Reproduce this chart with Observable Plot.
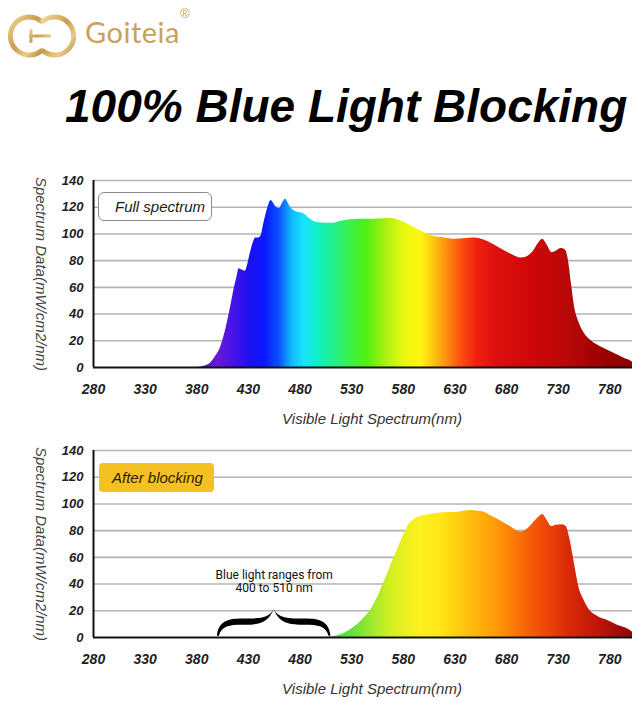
<!DOCTYPE html>
<html>
<head>
<meta charset="utf-8">
<script src="https://cdn.jsdelivr.net/npm/d3@7"></script>
<script src="https://cdn.jsdelivr.net/npm/@observablehq/plot@0.6"></script>
<style>
  body { margin: 0; background: #fff; width: 640px; overflow: hidden; font-family: "Liberation Sans", Arial, sans-serif; }
  .chart { position: relative; width: 640px; height: 268px; }
  .chart svg { display: block; }
  .chart svg g[aria-label^="x-axis"] text { font-weight: 700; font-style: italic; font-size: 14px; fill: #222; }
  .chart svg g[aria-label^="y-axis"] text { font-weight: 700; font-style: italic; font-size: 13px; fill: #222; }
  .tag { position: absolute; height: 29px; line-height: 29px; box-sizing: border-box; font-style: italic; font-size: 15px; }
</style>
</head>
<body>
<div id="header" style="position:relative;height:165px;">
  <svg style="position:absolute;left:8px;top:12px" width="68" height="48" viewBox="0 0 68 48">
    <defs>
      <linearGradient id="gold" x1="0" y1="0" x2="1" y2="1">
        <stop offset="0" stop-color="#f1d99a"/>
        <stop offset="0.45" stop-color="#c99d4e"/>
        <stop offset="0.75" stop-color="#e9cd88"/>
        <stop offset="1" stop-color="#b88a3c"/>
      </linearGradient>
    </defs>
    <path d="M33 9 A19 19 0 1 0 33 39" fill="none" stroke="url(#gold)" stroke-width="5" stroke-linecap="round"/>
    <path d="M35 39 A19 19 0 1 0 35 9" fill="none" stroke="url(#gold)" stroke-width="5" stroke-linecap="round"/>
    <path d="M21 24 H43 M23 17 V31" fill="none" stroke="url(#gold)" stroke-width="3"/>
  </svg>
  <div style="position:absolute;left:85px;top:14px;font-family:Lato,'Open Sans',sans-serif;font-weight:400;font-size:29px;color:#c8a25a;letter-spacing:0.5px;">Goiteia</div>
  <div style="position:absolute;left:180px;top:6px;font-family:'Liberation Sans',Arial,sans-serif;font-size:13px;color:#c8a25a;">®</div>
  <div id="title" style="position:absolute;left:65px;top:83px;font-family:'Liberation Sans',Arial,sans-serif;font-weight:700;font-style:italic;font-size:46px;line-height:46px;color:#000;white-space:nowrap;"></div>
</div>
<div id="top" class="chart"></div>
<div id="bot" class="chart"></div>
<script>
// ---------- data ----------
const titleText = "100% Blue Light Blocking";
const xLabel = "Visible Light Spectrum(nm)";
const yLabel = "Spectrum Data(mW/cm2/nm)";
const topTag = "Full spectrum";
const botTag = "After blocking";
const noteText = "Blue light ranges from\n400 to 510 nm";
const blueFrom = 400, blueTo = 510;

const xTicks = [280, 330, 380, 430, 480, 530, 580, 630, 680, 730, 780];
const yTicks = [0, 20, 40, 60, 80, 100, 120, 140];

// Full spectrum (nm, mW/cm2/nm)
const fullNm = [380, 385, 393, 398, 403, 407, 410, 413, 416, 419, 421, 424, 427, 429, 432, 435, 437, 440, 442, 445, 449, 452, 456, 460, 463, 466, 470, 474, 479, 484, 490, 496, 505, 512, 520, 536, 550, 568, 581, 590, 600, 610, 620, 630, 640, 648, 656, 665, 674, 684, 694, 700, 706, 711, 715, 719, 724, 728, 733, 737, 740, 743, 746, 750, 755, 762, 770, 778, 786, 794, 800, 802];
const fullVal = [0, 0.5, 3, 8, 15, 25, 35, 46, 58, 68, 74, 73, 72, 76, 86, 94, 97, 97, 98, 108, 120, 125, 121, 119, 123, 126, 121, 117.5, 116, 115, 111, 108.6, 108, 108, 109.5, 111, 111, 111.5, 108.6, 105, 101, 98, 97, 96, 96.5, 97, 96, 93, 89, 85, 82, 83, 87, 93, 96, 92, 86, 87, 89, 88, 80, 62, 45, 34, 26, 20, 16, 13, 10, 7, 5, 4];

// After blocking
const blockNm = [505, 517, 525, 532, 540, 548, 555, 560, 565, 570, 575, 580, 585, 590, 595, 605, 614, 625, 635, 645, 652, 658, 665, 674, 684, 694, 700, 705, 710, 715, 719, 724, 728, 734, 738, 741, 744, 747, 750, 755, 760, 768, 778, 788, 797, 802];
const blockVal = [0, 1.5, 4, 7.5, 13, 20, 30, 39, 48, 58, 67, 76, 84, 88, 90, 92, 93, 93.5, 94, 95, 94.5, 94, 91, 87.5, 83, 79, 81, 85, 89, 92, 88, 83, 84, 84.5, 83, 75, 63, 50, 38, 28, 21, 16, 12.7, 9, 6.5, 4];

// Colour stops along wavelength
const fullStopNm = [380, 400, 418, 432, 446, 460, 472, 484, 497, 512, 527, 545, 563, 580, 597, 609, 622, 636, 652, 668, 700, 740, 770, 802];
const fullStopColor = ["#4a0c90", "#6a18d8", "#4012e8", "#1a10f0", "#0a18ff", "#0a50ff", "#10b8ff", "#18e4ff", "#10f0c8", "#20f090", "#38f050", "#50f010", "#a8f010", "#e8f810", "#fff510", "#ffc810", "#ff9010", "#ff5010", "#f02010", "#e01010", "#d00808", "#b80808", "#a00000", "#8a0000"];
const blockStopNm = [505, 530, 550, 568, 595, 615, 642, 672, 697, 717, 742, 767, 790, 802];
const blockStopColor = ["#50d850", "#60e040", "#a0e830", "#d0f020", "#fff020", "#ffe818", "#ffc010", "#ff9808", "#f86808", "#f04808", "#d82808", "#c01808", "#a00a0a", "#900808"];

// ---------- helpers ----------
document.getElementById("title").textContent = titleText;

function scaleFn(s) {
  return s.apply ? (v) => s.apply(v) : d3.scaleLinear(s.domain, s.range);
}

function addGradient(svg, id, stopsNm, stopsColor) {
  const sx = scaleFn(svg.scale("x"));
  const ns = "http://www.w3.org/2000/svg";
  const defs = document.createElementNS(ns, "defs");
  const g = document.createElementNS(ns, "linearGradient");
  g.setAttribute("id", id);
  g.setAttribute("gradientUnits", "userSpaceOnUse");
  const x1 = sx(stopsNm[0]), x2 = sx(stopsNm[stopsNm.length - 1]);
  g.setAttribute("x1", x1); g.setAttribute("x2", x2);
  g.setAttribute("y1", 0); g.setAttribute("y2", 0);
  stopsNm.forEach((n, i) => {
    const st = document.createElementNS(ns, "stop");
    st.setAttribute("offset", (sx(n) - x1) / (x2 - x1));
    st.setAttribute("stop-color", stopsColor[i]);
    g.appendChild(st);
  });
  defs.appendChild(g);
  svg.insertBefore(defs, svg.firstChild);
}

function makeChart(el, nm, val, gradId, mTop, mBottom, extraMarks) {
  const data = nm.map((n, i) => ({nm: n, v: val[i]}));
  const svg = Plot.plot({
    width: 640, height: 268,
    marginLeft: 93, marginRight: 8, marginTop: mTop, marginBottom: mBottom,
    style: {fontFamily: "'Liberation Sans', Arial, sans-serif", fontSize: "13px", color: "#222", background: "transparent", overflow: "visible"},
    x: {domain: [280, 802], ticks: xTicks, tickSize: 0, tickPadding: 17, tickFormat: (d) => String(d), label: null},
    y: {domain: [0, 140], ticks: yTicks, tickSize: 0, tickPadding: 10, tickFormat: (d) => String(d), label: null},
    marks: [
      Plot.ruleY(yTicks.filter((d) => d > 0), {stroke: "#b3b3b3", strokeWidth: 1.6}),
      Plot.areaY(data, {x: "nm", y: "v", fill: `url(#${gradId})`, curve: "monotone-x"}),
      Plot.ruleY([0], {stroke: "#111", strokeWidth: 2}),
      Plot.ruleX([280], {y1: 0, y2: 140, stroke: "#111", strokeWidth: 2}),
      Plot.text([yLabel], {text: (d) => d, frameAnchor: "left", textAnchor: "middle", lineAnchor: "middle", dx: -53, rotate: 90, fontStyle: "italic", fontSize: 15, fill: "#444"}),
      Plot.text([xLabel], {text: (d) => d, frameAnchor: "bottom", textAnchor: "middle", lineAnchor: "middle", dy: 52, dx: 9, fontStyle: "italic", fontSize: 15, fill: "#333"}),
      ...extraMarks
    ]
  });
  el.appendChild(svg);
  return svg;
}

// ---------- top chart ----------
const topEl = document.getElementById("top");
const topSvg = makeChart(topEl, fullNm, fullVal, "gradTop", 15, 66, []);
addGradient(topSvg, "gradTop", fullStopNm, fullStopColor);
const t1 = document.createElement("div");
t1.className = "tag";
t1.textContent = topTag;
Object.assign(t1.style, {left: "98px", top: "27px", width: "114px", border: "1px solid #8c8c8c", borderRadius: "6px", background: "#fff", color: "#1a1a1a", paddingLeft: "16px", lineHeight: "27px"});
topEl.appendChild(t1);

// ---------- bottom chart ----------
const botEl = document.getElementById("bot");
const botSvg = makeChart(botEl, blockNm, blockVal, "gradBot", 17, 64, [
  Plot.text([noteText], {x: (blueFrom + blueTo) / 2, y: 42, text: (d) => d, fontFamily: "Roboto, sans-serif", fontSize: 12, lineHeight: 1.08, fill: "#111"})
]);
addGradient(botSvg, "gradBot", blockStopNm, blockStopColor);

// curly brace over 400–510 nm, placed through the plot's scales
(function () {
  const sx = scaleFn(botSvg.scale("x")), sy = scaleFn(botSvg.scale("y"));
  const x0 = sx(blueFrom), x1 = sx(blueTo), yb = sy(1), yt = sy(21);
  const hw = (x1 - x0) / 2, h = yb - yt;
  function half(left) {
    const p = (u, f) => `${(left ? x0 + u * hw : x1 - u * hw).toFixed(2)},${(yb - f * h).toFixed(2)}`;
    return `M${p(0, 0)} C${p(0.03, 0.55)} ${p(0.2, 0.64)} ${p(0.45, 0.64)} C${p(0.75, 0.64)} ${p(0.93, 0.66)} ${p(1, 1)} ` +
           `C${p(0.9, 0.45)} ${p(0.72, 0.41)} ${p(0.45, 0.41)} C${p(0.22, 0.41)} ${p(0.08, 0.36)} ${p(0.035, 0)} Z`;
  }
  const ns = "http://www.w3.org/2000/svg";
  const path = document.createElementNS(ns, "path");
  path.setAttribute("d", half(true) + " " + half(false));
  path.setAttribute("fill", "#000");
  botSvg.appendChild(path);
})();

const t2 = document.createElement("div");
t2.className = "tag";
t2.textContent = botTag;
Object.assign(t2.style, {left: "99px", top: "30px", width: "115px", borderRadius: "4px", background: "#f5c122", color: "#2e1c00", paddingLeft: "13px"});
botEl.appendChild(t2);
</script>
</body>
</html>
